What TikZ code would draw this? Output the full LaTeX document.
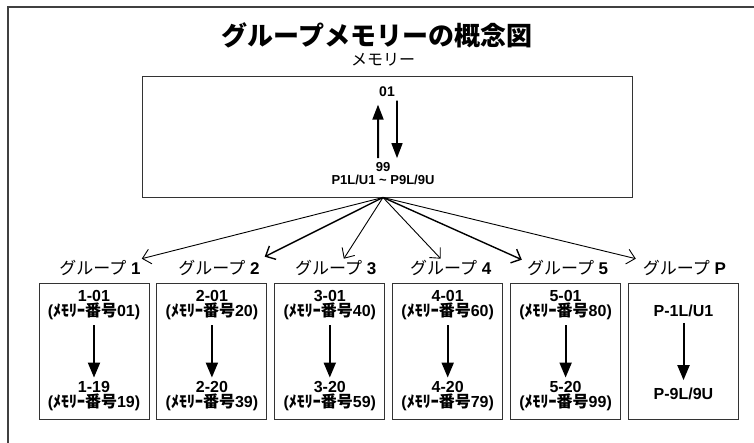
\documentclass[tikz,border=0pt]{standalone}
\usepackage{fontspec}
\setmainfont{Liberation Sans}
\newfontfamily\jp{Noto Sans CJK JP}
\usetikzlibrary{arrows.meta, positioning}

\newcommand{\memno}[1]{({\jp ﾒﾓﾘｰ番号}#1)}

\begin{document}
\begin{tikzpicture}[
    x=1bp, y=-1bp,
    font=\bfseries\fontsize{16bp}{15bp}\selectfont,
    node distance=7bp,
    frame/.style={draw=black!75, line width=1.4bp},
    membox/.style={draw=black!80, line width=0.9bp, minimum width=490bp, minimum height=121bp, inner sep=0},
    grpbox/.style={draw=black!80, line width=0.9bp, minimum width=110bp, minimum height=136bp, inner sep=0},
    grplabel/.style={font=\mdseries\fontsize{17bp}{17bp}\selectfont, inner sep=1bp},
    cell/.style={align=center, inner sep=0.5bp, font=\bfseries\fontsize{16bp}{15bp}\selectfont},
    memtext/.style={align=center, inner sep=0.5bp, font=\bfseries\fontsize{13bp}{13bp}\selectfont},
    flow/.style={-{Triangle[length=15bp,width=12bp]}, line width=2bp},
    link/.style={-{Straight Barb[length=8bp,width=15bp]}, line width=0.9bp},
    boldlink/.style={link, line width=1.4bp}
]
\useasboundingbox (0,0) rectangle (754,443);
\clip (0,0) rectangle (754,443);
\draw[frame] (8,7) rectangle (770,460);

\node[font=\jp\bfseries\fontsize{26bp}{26bp}\selectfont] (title) at (377,35) {グループメモリーの概念図};
\node[grplabel, font=\mdseries\fontsize{16bp}{16bp}\selectfont] (memlabel) at (383,60) {\jp メモリー};

% memory
\node[membox] (mem) at (387,136.5) {};
\node[memtext, font=\bfseries\fontsize{14bp}{14bp}\selectfont] (first) at (387,92) {01};
\node[memtext] (last) at (383,174) {99\\P1L/U1 \textasciitilde{} P9L/9U};
\coordinate (hub) at ([xshift=-4bp]mem.south);
\draw[flow, -{Triangle[length=15bp,width=11bp]}] ([xshift=-5bp,yshift=4bp]last.north) -- ([xshift=-9bp,yshift=-7bp]first.south);
\draw[flow, line width=1.6bp, -{Triangle[length=15bp,width=11bp]}] ([xshift=10bp,yshift=-3bp]first.south) -- ([xshift=14bp,yshift=4bp]last.north);

% groups
\node[grpbox] (g1) at (94,351) {};
\node[grpbox, right=of g1] (g2) {};
\node[grpbox, right=of g2] (g3) {};
\node[grpbox, right=of g3] (g4) {};
\node[grpbox, right=of g4] (g5) {};
\node[grpbox, right=of g5] (g6) {};

\node[grplabel, above=6bp of g1, xshift=6bp] (l1) {{\jp グループ} \textbf{1}};
\node[grplabel, above=6bp of g2, xshift=7bp] (l2) {{\jp グループ} \textbf{2}};
\node[grplabel, above=6bp of g3, xshift=6bp] (l3) {{\jp グループ} \textbf{3}};
\node[grplabel, above=6bp of g4, xshift=3bp] (l4) {{\jp グループ} \textbf{4}};
\node[grplabel, above=6bp of g5, xshift=2bp] (l5) {{\jp グループ} \textbf{5}};
\node[grplabel, above=6bp of g6, xshift=1bp] (l6) {{\jp グループ} \textbf{P}};

\node[cell, below=7bp of g1.north] (t1) {1-01\\\memno{01}};
\node[cell, above=8bp of g1.south] (b1) {1-19\\\memno{19}};
\node[cell, below=7bp of g2.north] (t2) {2-01\\\memno{20}};
\node[cell, above=8bp of g2.south] (b2) {2-20\\\memno{39}};
\node[cell, below=7bp of g3.north] (t3) {3-01\\\memno{40}};
\node[cell, above=8bp of g3.south] (b3) {3-20\\\memno{59}};
\node[cell, below=7bp of g4.north] (t4) {4-01\\\memno{60}};
\node[cell, above=8bp of g4.south] (b4) {4-20\\\memno{79}};
\node[cell, below=7bp of g5.north] (t5) {5-01\\\memno{80}};
\node[cell, above=8bp of g5.south] (b5) {5-20\\\memno{99}};
\node[cell, below=22bp of g6.north] (t6) {P-1L/U1};
\node[cell, above=19bp of g6.south] (b6) {P-9L/9U};

\draw[flow] ([yshift=-5bp]t1.south) -- ([yshift=3bp]b1.north);
\draw[flow] ([yshift=-5bp]t2.south) -- ([yshift=3bp]b2.north);
\draw[flow] ([yshift=-5bp]t3.south) -- ([yshift=3bp]b3.north);
\draw[flow] ([yshift=-5bp]t4.south) -- ([yshift=3bp]b4.north);
\draw[flow] ([yshift=-5bp]t5.south) -- ([yshift=3bp]b5.north);
\draw[flow] ([yshift=-5bp]t6.south) -- ([yshift=7bp]b6.north);

\draw[link] (hub) -- (l1.north east);
\draw[boldlink] (hub) -- ([xshift=4bp,yshift=2bp]l2.north east);
\draw[link] (hub) -- ([xshift=8bp]l3.north);
\draw[link] (hub) -- ([xshift=-10bp]l4.north);
\draw[boldlink] (hub) -- ([xshift=-4bp,yshift=-1bp]l5.north west);
\draw[link] (hub) -- ([xshift=-6bp]l6.north west);

\end{tikzpicture}
\end{document}
